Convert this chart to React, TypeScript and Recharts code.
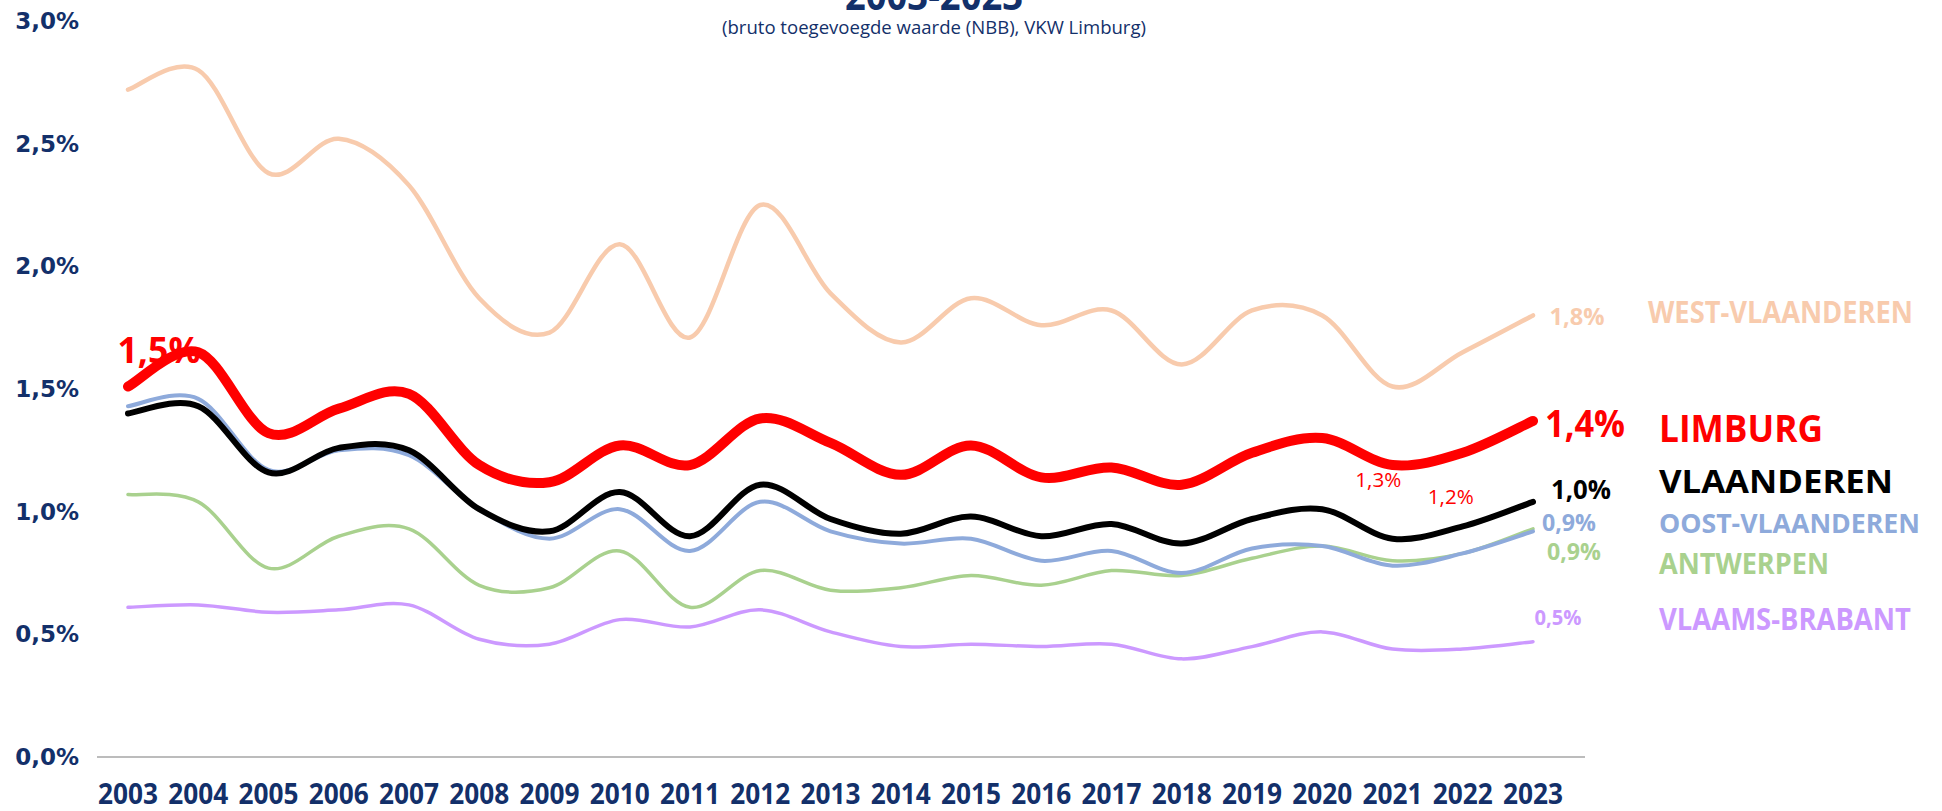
import React from 'react';
import { LineChart, Line, XAxis, YAxis, LabelList } from 'recharts';

const years = ['2003', '2004', '2005', '2006', '2007', '2008', '2009', '2010', '2011', '2012', '2013',
  '2014', '2015', '2016', '2017', '2018', '2019', '2020', '2021', '2022', '2023'];

const westVlaanderen = [2.72, 2.80, 2.38, 2.52, 2.33, 1.87, 1.73, 2.09, 1.71, 2.25, 1.89, 1.69, 1.87, 1.76, 1.82, 1.60, 1.82, 1.80, 1.51, 1.65, 1.80];
const limburg = [1.51, 1.65, 1.32, 1.42, 1.48, 1.19, 1.12, 1.27, 1.19, 1.38, 1.28, 1.15, 1.27, 1.14, 1.18, 1.11, 1.24, 1.30, 1.19, 1.24, 1.37];
const vlaanderen = [1.40, 1.43, 1.16, 1.26, 1.25, 1.01, 0.92, 1.08, 0.90, 1.11, 0.97, 0.91, 0.98, 0.90, 0.95, 0.87, 0.97, 1.01, 0.89, 0.94, 1.04];
const oostVlaanderen = [1.43, 1.46, 1.17, 1.25, 1.23, 1.01, 0.89, 1.01, 0.84, 1.04, 0.92, 0.87, 0.89, 0.80, 0.84, 0.75, 0.85, 0.86, 0.78, 0.83, 0.92];
const antwerpen = [1.07, 1.04, 0.77, 0.90, 0.93, 0.70, 0.69, 0.84, 0.61, 0.76, 0.68, 0.69, 0.74, 0.70, 0.76, 0.74, 0.81, 0.86, 0.80, 0.83, 0.93];
const vlaamsBrabant = [0.61, 0.62, 0.59, 0.60, 0.62, 0.48, 0.46, 0.56, 0.53, 0.60, 0.51, 0.45, 0.46, 0.45, 0.46, 0.40, 0.45, 0.51, 0.44, 0.44, 0.47];

const yTicks = [0, 0.5, 1, 1.5, 2, 2.5, 3];

const data = years.map((year, i) => ({
  year,
  west: westVlaanderen[i],
  limburg: limburg[i],
  vlaanderen: vlaanderen[i],
  oost: oostVlaanderen[i],
  antwerpen: antwerpen[i],
  brabant: vlaamsBrabant[i],
}));

const NAVY = '#13306a';
const FONT = '"Open Sans", "DejaVu Sans Condensed", sans-serif';
const LAST = years.length - 1;

const pct = (v: number) => v.toFixed(1).replace('.', ',') + '%';

// excel-like smoothed line (catmull-rom style bezier)
const smoothCurve: any = (context: any) => {
  let pts: number[][] = [];
  return {
    areaStart() {},
    areaEnd() {},
    lineStart() { pts = []; },
    point(x: number, y: number) { pts.push([+x, +y]); },
    lineEnd() {
      const n = pts.length;
      if (!n) return;
      context.moveTo(pts[0][0], pts[0][1]);
      for (let i = 0; i < n - 1; i++) {
        const p0 = pts[i - 1] || pts[i];
        const p1 = pts[i];
        const p2 = pts[i + 1];
        const p3 = pts[i + 2] || p2;
        context.bezierCurveTo(
          p1[0] + (p2[0] - p0[0]) / 6, p1[1] + (p2[1] - p0[1]) / 6,
          p2[0] - (p3[0] - p1[0]) / 6, p2[1] - (p3[1] - p1[1]) / 6,
          p2[0], p2[1],
        );
      }
    },
  };
};

// label styling per series: value label (v*) and name label (n*)
const seriesStyle: Record<string, any> = {
  west: { name: 'WEST-VLAANDEREN', color: '#f8cbad', width: 4.5, vdx: 44, vdy: 0, vsize: 24, vlen: 55, nx: 1648, ndy: -4, nsize: 30, nlen: 265 },
  brabant: { name: 'VLAAMS-BRABANT', color: '#cc99ff', width: 3.5, vdx: 25, vdy: -25, vsize: 21, vlen: 47, nx: 1659, ndy: -23, nsize: 30, nlen: 252 },
  antwerpen: { name: 'ANTWERPEN', color: '#a9d18e', width: 3.5, vdx: 41, vdy: 22, vsize: 23, vlen: 54, nx: 1659, ndy: 34, nsize: 28, nlen: 170 },
  oost: { name: 'OOST-VLAANDEREN', color: '#8eaadb', width: 4, vdx: 36, vdy: -9, vsize: 23, vlen: 54, nx: 1659, ndy: -8, nsize: 26, nlen: 261 },
  vlaanderen: { name: 'VLAANDEREN', color: '#000000', width: 6, vdx: 48, vdy: -13, vsize: 27, vlen: 60, nx: 1659, ndy: -21, nsize: 32, nlen: 234 },
  limburg: { name: 'LIMBURG', color: '#ff0000', width: 10, vdx: 52, vdy: 1, vsize: 38, vlen: 80, nx: 1659, ndy: 6, nsize: 38, nlen: 164 },
};

// extra labels on the Limburg line
const limburgExtra: Record<number, { dx: number; dy: number; size: number; len: number; bold: boolean }> = {
  0: { dx: 31, dy: -37, size: 36, len: 83, bold: true },
  17: { dx: 56, dy: 41, size: 20, len: 46, bold: false },
  19: { dx: -12, dy: 44, size: 20, len: 46, bold: false },
};

const Txt = ({ x, y, color, size, len, bold, anchor = 'middle', children }: any) => (
  <text x={x} y={y} fill={color} fontSize={size} fontWeight={bold ? 'bold' : 'normal'} fontFamily={FONT}
    textAnchor={anchor} dominantBaseline="central" textLength={len} lengthAdjust="spacingAndGlyphs">{children}</text>
);

const renderLabel = (key: string) => (props: any) => {
  const { x, y, index, value } = props;
  const s = seriesStyle[key];
  if (key === 'limburg' && limburgExtra[index]) {
    const e = limburgExtra[index];
    return <Txt x={x + e.dx} y={y + e.dy} color={s.color} size={e.size} len={e.len} bold={e.bold}>{pct(value)}</Txt>;
  }
  if (index !== LAST) return null;
  return (
    <g>
      <Txt x={x + s.vdx} y={y + s.vdy} color={s.color} size={s.vsize} len={s.vlen} bold>{pct(value)}</Txt>
      <Txt x={s.nx} y={y + s.ndy} color={s.color} size={s.nsize} len={s.nlen} bold anchor="start">{s.name}</Txt>
    </g>
  );
};

const YTick = (props: any) => {
  const { y, payload } = props;
  return (
    <text x={79} y={y} textAnchor="end" dominantBaseline="central" fill={NAVY} fontSize={23}
      fontWeight="bold" fontFamily='"DejaVu Sans", Verdana, sans-serif'>{pct(payload.value)}</text>
  );
};

const XTick = (props: any) => {
  const { x, y, payload } = props;
  return <Txt x={x} y={y + 28} color={NAVY} size={28} len={60} bold>{payload.value}</Txt>;
};

const order = ['west', 'brabant', 'antwerpen', 'oost', 'vlaanderen', 'limburg'];

export default function App() {
  return (
    <div style={{ position: 'absolute', left: 0, top: 0, width: 1942, height: 811, background: '#fff' }}>
      <LineChart width={1942} height={811} data={data} margin={{ top: 21, right: 357, bottom: 0, left: 0 }}>
        <XAxis dataKey="year" height={54} padding={{ left: 31, right: 52 }} tick={<XTick />}
          tickLine={false} axisLine={{ stroke: '#a6a6a6', strokeWidth: 1.5 }} interval={0} />
        <YAxis domain={[0, 3]} ticks={yTicks} width={97} tick={<YTick />} tickLine={false} axisLine={false} />
        {order.map((key) => (
          <Line key={key} dataKey={key} type={smoothCurve} stroke={seriesStyle[key].color}
            strokeWidth={seriesStyle[key].width} dot={false} isAnimationActive={false} strokeLinecap="round">
            <LabelList dataKey={key} content={renderLabel(key)} />
          </Line>
        ))}
      </LineChart>
      <svg width={1942} height={60} style={{ position: 'absolute', left: 0, top: 0, pointerEvents: 'none' }}>
        <text x={934} y={10} textAnchor="middle" fill={NAVY} fontSize={42} fontWeight="bold" fontFamily={FONT}
          textLength={178} lengthAdjust="spacingAndGlyphs">2003-2023</text>
        <Txt x={934} y={27} color={NAVY} size={18} len={424}>(bruto toegevoegde waarde (NBB), VKW Limburg)</Txt>
      </svg>
    </div>
  );
}
